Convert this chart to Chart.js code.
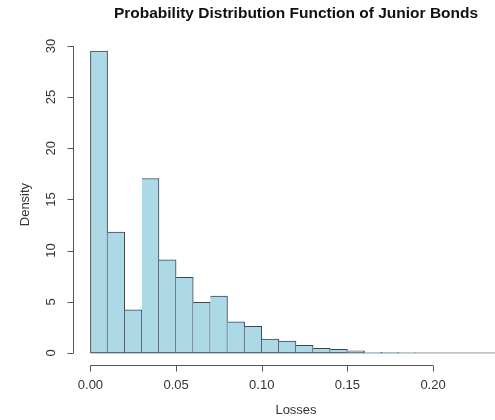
<!DOCTYPE html>
<html>
<head>
<meta charset="utf-8">
<script src="https://cdn.jsdelivr.net/npm/chart.js@4"></script>
<style>
  html, body { margin: 0; padding: 0; background: #fff; overflow: hidden; }
  #wrap { width: 525px; height: 420px; }
</style>
</head>
<body>
<div id="wrap"><canvas id="hist" width="525" height="420"></canvas></div>
<script>
  // histogram bins (width 0.01), left edges
  const binLefts = [0.00, 0.01, 0.02, 0.03, 0.04, 0.05, 0.06, 0.07, 0.08, 0.09, 0.10, 0.11,
    0.12, 0.13, 0.14, 0.15, 0.16, 0.17, 0.18, 0.19, 0.20, 0.21, 0.22, 0.23];
  const binWidth = 0.01;
  const density = [29.5, 11.8, 4.2, 17.05, 9.1, 7.4, 4.95, 5.55, 3.05, 2.6, 1.35, 1.15,
    0.75, 0.45, 0.35, 0.2, 0.06, 0.04, 0.02, 0, 0, 0, 0, 0];
  const xTicks = [0.00, 0.05, 0.10, 0.15, 0.20];
  const yTicks = [0, 5, 10, 15, 20, 25, 30];

  const titleText = 'Probability Distribution Function of Junior Bonds';
  const xTitle = 'Losses';
  const yTitle = 'Density';

  const fill = '#add8e6';
  const edge = '#3a4850';
  const axisColor = '#555';
  const textColor = '#333';
  const font = "'Liberation Sans', Arial, sans-serif";

  const bars = binLefts.map((l, i) => ({ x: l + binWidth / 2, y: density[i] }));
  const lastEdge = binLefts[binLefts.length - 1] + binWidth;

  // base-style axes: lines only span the first..last tick
  const baseAxes = {
    id: 'baseAxes',
    afterDraw(chart) {
      const { ctx, chartArea, scales } = chart;
      const xs = scales.x, ys = scales.y;
      ctx.save();
      ctx.strokeStyle = axisColor;
      ctx.lineWidth = 1;
      ctx.fillStyle = textColor;

      // x axis
      const yb = Math.round(chartArea.bottom) + 0.5;
      ctx.beginPath();
      ctx.moveTo(xs.getPixelForValue(xTicks[0]), yb);
      ctx.lineTo(xs.getPixelForValue(xTicks[xTicks.length - 1]), yb);
      xTicks.forEach((t) => {
        const px = Math.round(xs.getPixelForValue(t)) + 0.5;
        ctx.moveTo(px, yb);
        ctx.lineTo(px, yb + 6);
      });
      ctx.stroke();
      ctx.font = '13px ' + font;
      ctx.textAlign = 'center';
      ctx.textBaseline = 'middle';
      xTicks.forEach((t) => ctx.fillText(t.toFixed(2), xs.getPixelForValue(t), yb + 20));
      ctx.fillText(xTitle, (chartArea.left + chartArea.right) / 2, yb + 45);

      // y axis
      const xl = Math.round(chartArea.left) - 0.5;
      ctx.beginPath();
      ctx.moveTo(xl, ys.getPixelForValue(yTicks[0]));
      ctx.lineTo(xl, ys.getPixelForValue(yTicks[yTicks.length - 1]));
      yTicks.forEach((t) => {
        const py = Math.round(ys.getPixelForValue(t)) + 0.5;
        ctx.moveTo(xl, py);
        ctx.lineTo(xl - 6, py);
      });
      ctx.stroke();
      yTicks.forEach((t) => {
        ctx.save();
        ctx.translate(xl - 22, ys.getPixelForValue(t));
        ctx.rotate(-Math.PI / 2);
        ctx.fillText(String(t), 0, 0);
        ctx.restore();
      });
      ctx.save();
      ctx.translate(xl - 48, ys.getPixelForValue(14.5));
      ctx.rotate(-Math.PI / 2);
      ctx.fillText(yTitle, 0, 0);
      ctx.restore();

      // main title
      ctx.fillStyle = '#111';
      ctx.font = 'bold 15.5px ' + font;
      ctx.fillText(titleText, (chartArea.left + chartArea.right) / 2, 14);
      ctx.restore();
    },
  };

  new Chart(document.getElementById('hist'), {
    type: 'bar',
    data: {
      datasets: [
        {
          type: 'line',
          data: [{ x: binLefts[0], y: 0 }, { x: lastEdge, y: 0 }],
          borderColor: '#999',
          borderWidth: 1,
          pointRadius: 0,
          order: 2,
        },
        {
          data: bars,
          backgroundColor: fill,
          borderColor: edge,
          borderSkipped: false,
          borderWidth: (c) => ({ top: 1, right: 1, bottom: 1, left: c.dataIndex === 0 ? 1 : 0 }),
          barPercentage: 1,
          categoryPercentage: 1,
          order: 1,
        },
      ],
    },
    options: {
      responsive: false,
      animation: false,
      layout: { padding: { left: 74, right: 7, top: 39, bottom: 55 } },
      plugins: { legend: { display: false }, tooltip: { enabled: false } },
      scales: {
        x: { type: 'linear', offset: false, min: -0.0096, max: 0.2496, display: false },
        y: { type: 'linear', min: -1.18, max: 30.68, display: false },
      },
    },
    plugins: [baseAxes],
  });
</script>
</body>
</html>
